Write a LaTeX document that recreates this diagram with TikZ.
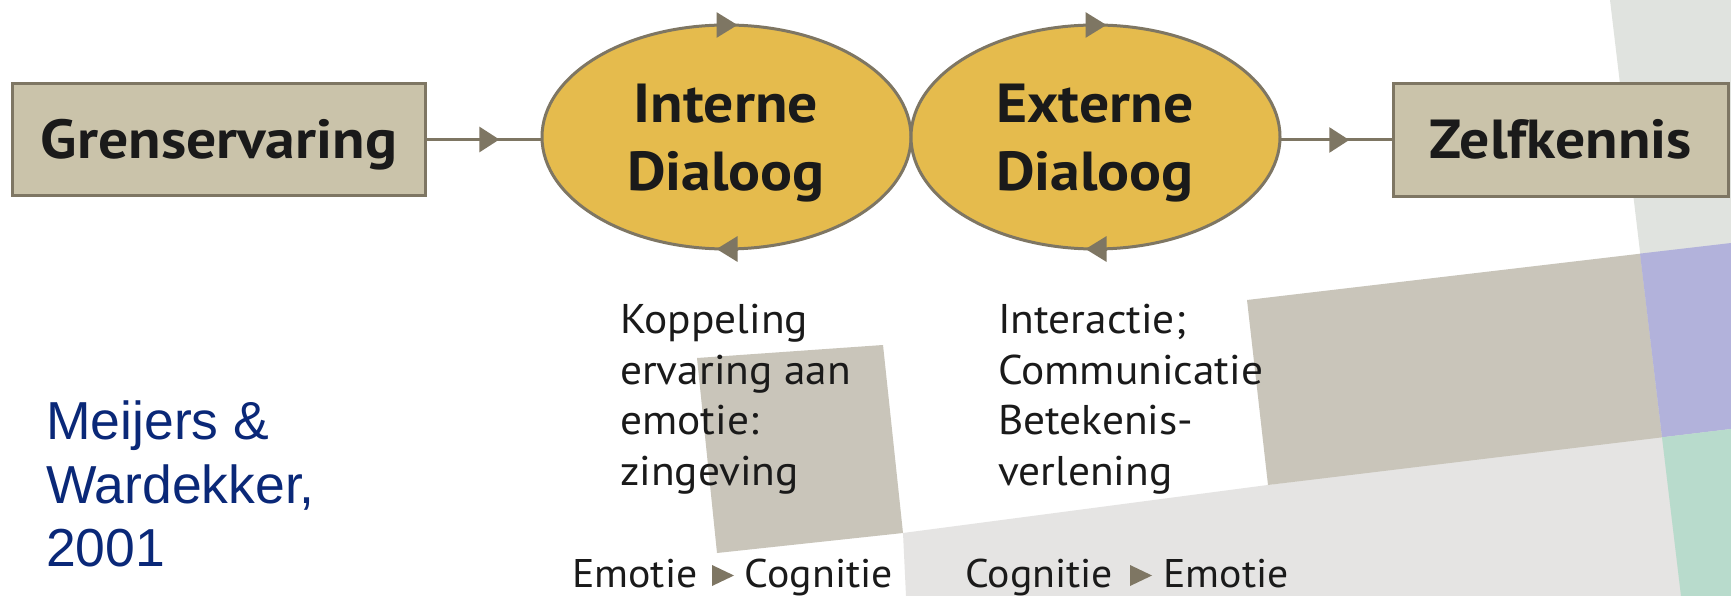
\documentclass[tikz,border=0pt]{standalone}
\usepackage{fontspec}
\setmainfont{PT Sans}[FakeStretch=1.045]
\newfontfamily\labelfont{PT Sans Bold}[FakeStretch=1.085]
\newfontfamily\citefont{Liberation Sans}
\usetikzlibrary{shapes.geometric,arrows.meta,decorations.markings}

\definecolor{boxfill}{HTML}{CAC3AA}
\definecolor{edgec}{HTML}{7E7663}
\definecolor{gold}{HTML}{E5BB4D}
\definecolor{paneBrown}{HTML}{C9C5BA}
\definecolor{paneLight}{HTML}{E5E4E3}
\definecolor{paneStripe}{HTML}{E0E3DF}
\definecolor{panePurple}{HTML}{B2B2DB}
\definecolor{paneGreen}{HTML}{B8DBCC}
\definecolor{citeblue}{RGB}{10,40,120}
\definecolor{txt}{HTML}{1A1A1A}

\begin{document}
\begin{tikzpicture}[x=1pt,y=-1pt,
  boxnode/.style={draw=edgec, fill=boxfill, line width=3pt, inner sep=0pt, outer sep=0pt,
    text height=38pt, text depth=0pt, text=txt, font=\labelfont\fontsize{55}{60}\selectfont},
  dialog/.style={ellipse, draw=edgec, fill=gold, line width=3pt, minimum width=369pt,
    minimum height=224pt, inner sep=0pt, outer sep=0pt},
  dlabel/.style={anchor=base, inner sep=0pt, text=txt, font=\labelfont\fontsize{55}{60}\selectfont},
  flow/.style={color=edgec, line width=3pt, postaction={decorate},
    decoration={markings, mark=at position #1 with {\arrow{Triangle[length=20pt,width=25pt]}}}},
  cyc/.style={color=edgec, line width=3pt, -{Triangle[length=21pt,width=25pt]}},
  body/.style={anchor=base west, inner sep=0pt, text=txt, font=\fontsize{41.5}{50}\selectfont},
  bodyr/.style={anchor=base east, inner sep=0pt, text=txt, font=\fontsize{40}{50}\selectfont},
  bodyl/.style={anchor=base west, inner sep=0pt, text=txt, font=\fontsize{40}{50}\selectfont},
  cite/.style={anchor=base west, inner sep=0pt, text=citeblue, font=\citefont\fontsize{53.5}{62}\selectfont},
  tri/.style={fill=edgec}
]
\useasboundingbox (0,0) rectangle (1731,596);
\fill[white] (0,0) rectangle (1731,596);

% background panes
\fill[paneLight] (903,533) -- (1731,424) -- (1731,596) -- (906,596) -- cycle;
\fill[paneBrown] (697,358) -- (883,345) -- (903,533) -- (717,553) -- cycle;
\fill[paneBrown] (1247,300) -- (1731,243) -- (1731,429) -- (1268,485) -- cycle;
\fill[paneStripe] (1610,0) -- (1731,0) -- (1731,596) -- (1681,596) -- cycle;
\fill[panePurple] (1640,253.6) -- (1731,243) -- (1731,429) -- (1662,437.3) -- cycle;
\fill[paneGreen] (1662,437.3) -- (1731,429) -- (1731,596) -- (1681,596) -- cycle;

% main flow
\node[boxnode, minimum width=413pt, minimum height=112pt] (g) at (219,139.5) {Grenservaring};
\node[dialog] (i) at (726.5,137) {};
\node[dialog] (e) at (1095.5,137) {};
\node[boxnode, minimum width=335pt, minimum height=113pt] (z) at (1561,140) {Zelfkennis};

\node[dlabel] (i1) at (726,123) {Interne};
\node[dlabel] (i2) at (726,190) {Dialoog};
\node[dlabel] (e1) at (1095,123) {Externe};
\node[dlabel] (e2) at (1095,190) {Dialoog};

\draw[flow=0.634] (g.east) -- (g.east -| i.west);
\draw[flow=0.61] (e.east |- z.west) -- (z.west);

\draw[cyc] ([xshift=-10pt]i.north) -- ([xshift=11pt]i.north);
\draw[cyc] ([xshift=11pt]i.south) -- ([xshift=-10pt]i.south);
\draw[cyc] ([xshift=-10pt]e.north) -- ([xshift=11pt]e.north);
\draw[cyc] ([xshift=11pt]e.south) -- ([xshift=-10pt]e.south);

% descriptions
\node[body] (k1) at (620,333) {Koppeling};
\node[body] (k2) at (620,384) {ervaring aan};
\node[body] (k3) at (620,434.5) {emotie:};
\node[body] (k4) at (620,485) {zingeving};

\node[body] (c1) at (998,333) {Interactie;};
\node[body] (c2) at (998,384) {Communicatie};
\node[body] (c3) at (998,434.5) {Betekenis-};
\node[body] (c4) at (998,485) {verlening};

\node[bodyl] (b1) at (572,587) {Emotie};
\fill[tri] (712,565) -- (734,575.5) -- (712,586) -- cycle;
\node[bodyr] (b2) at (893,587) {Cognitie};

\node[bodyl] (b3) at (965,587) {Cognitie};
\fill[tri] (1130,565) -- (1152,575.5) -- (1130,586) -- cycle;
\node[bodyr] (b4) at (1289,587) {Emotie};

% citation
\node[cite] (m1) at (46,439) {Meijers \&};
\node[cite] (m2) at (46,503) {Wardekker,};
\node[cite] (m3) at (46,566) {2001};
\end{tikzpicture}
\end{document}
